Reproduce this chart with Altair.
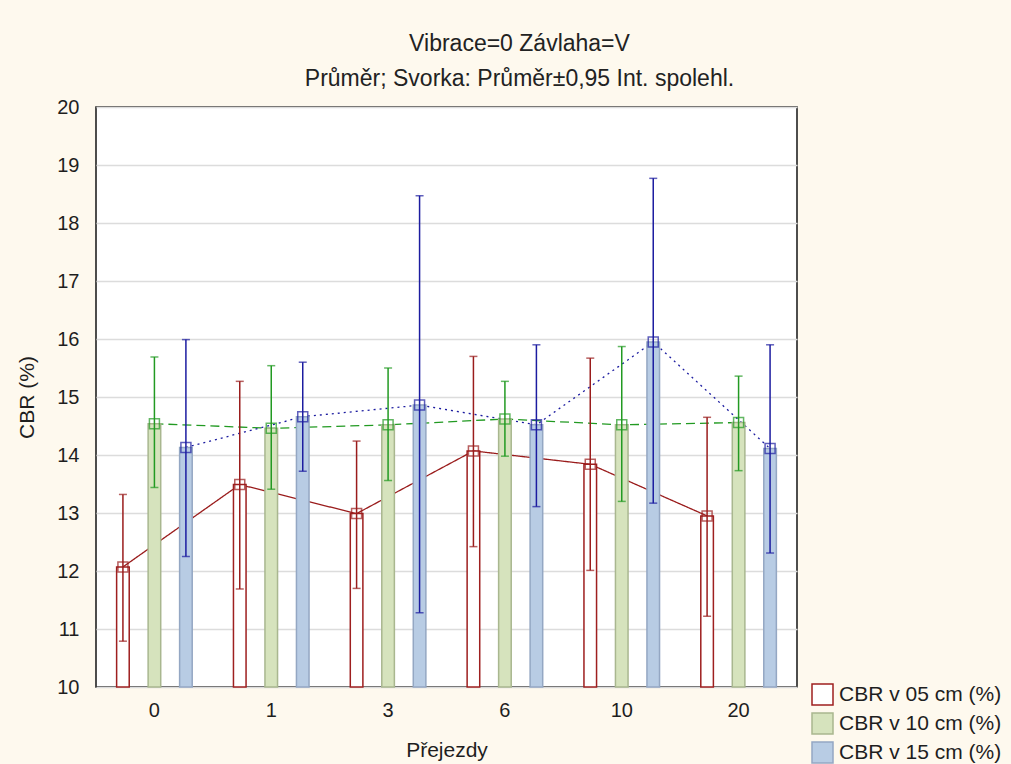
import altair as alt
import pandas as pd

categories = ["0", "1", "3", "6", "10", "20"]
series = ["CBR v 05 cm (%)", "CBR v 10 cm (%)", "CBR v 15 cm (%)"]
depths = ["05", "10", "15"]

mean_05 = [12.07, 13.49, 12.99, 14.07, 13.84, 12.95]
low_05 = [10.79, 11.69, 11.70, 12.42, 12.01, 11.22]
high_05 = [13.32, 15.27, 14.24, 15.70, 15.67, 14.65]

mean_10 = [14.54, 14.46, 14.52, 14.62, 14.52, 14.56]
low_10 = [13.44, 13.41, 13.56, 13.98, 13.20, 13.73]
high_10 = [15.69, 15.54, 15.50, 15.27, 15.87, 15.36]

mean_15 = [14.13, 14.66, 14.86, 14.52, 15.95, 14.11]
low_15 = [12.25, 13.72, 11.28, 13.11, 13.17, 12.31]
high_15 = [15.99, 15.60, 18.47, 15.90, 18.77, 15.90]

bar_fill = ["#FFFFFF", "#D6E3BD", "#B8CCE4"]
bar_stroke = ["#9E1F1F", "#A9B78F", "#94A7C3"]
line_color = ["#9A1C1C", "#229A22", "#1C1CA0"]
dashes = [[1, 0], [9, 5], [2, 4]]

rows = []
for s, d, m, lo, hi in zip(series, depths, [mean_05, mean_10, mean_15],
                           [low_05, low_10, low_15], [high_05, high_10, high_15]):
    for c, mv, l, h in zip(categories, m, lo, hi):
        rows.append({"prejezdy": c, "series": s, "depth": d, "mean": mv, "low": l, "high": h})
df = pd.DataFrame(rows)

FONT = "Liberation Sans"

x = alt.X("prejezdy:N", sort=categories,
          scale=alt.Scale(paddingInner=0, paddingOuter=0),
          axis=alt.Axis(title="Přejezdy", labelAngle=0, ticks=False, domain=False,
                        grid=False, labelPadding=13, titlePadding=19))
xo = alt.XOffset("series:N", sort=series,
                 scale=alt.Scale(domain=series, paddingInner=0.6, paddingOuter=0.655))
y_scale = alt.Scale(domain=[10, 20], nice=False, zero=False)
y = alt.Y("mean:Q", scale=y_scale,
          axis=alt.Axis(title="CBR (%)", values=list(range(10, 21)), format="d", ticks=False,
                        domain=False, labelPadding=17, titlePadding=19))
color = alt.Color("depth:N", scale=alt.Scale(domain=depths, range=line_color), legend=None)

base = alt.Chart(df)

lines = base.mark_line(strokeWidth=1.3).encode(
    x=x, xOffset=xo, y=y, color=color,
    strokeDash=alt.StrokeDash("depth:N", scale=alt.Scale(domain=depths, range=dashes), legend=None),
)

leg = alt.Legend(title=None, orient="none", legendX=715, legendY=576,
                 symbolType="square", symbolSize=441, symbolStrokeWidth=1.5,
                 labelFont=FONT, labelFontSize=21, labelColor="#1e1e1e",
                 labelOffset=5, rowPadding=2, labelLimit=400)

bars = base.mark_bar(strokeWidth=1.5).encode(
    x=x, xOffset=xo, y=y, y2=alt.datum(10),
    fill=alt.Fill("series:N", scale=alt.Scale(domain=series, range=bar_fill), legend=leg),
    stroke=alt.Stroke("series:N", scale=alt.Scale(domain=series, range=bar_stroke), legend=leg),
)

rules = base.mark_rule(strokeWidth=1.5).encode(
    x=x, xOffset=xo, y=alt.Y("low:Q", scale=y_scale), y2="high:Q", color=color)
cap_lo = base.mark_tick(thickness=1.5, size=8).encode(
    x=x, xOffset=xo, y=alt.Y("low:Q", scale=y_scale), color=color)
cap_hi = base.mark_tick(thickness=1.5, size=8).encode(
    x=x, xOffset=xo, y=alt.Y("high:Q", scale=y_scale), color=color)
points = base.mark_point(shape="square", size=100, filled=False, strokeWidth=1.5).encode(
    x=x, xOffset=xo, y=y, color=color)

chart = alt.layer(lines, bars, rules, cap_lo, cap_hi, points).properties(
    width=701, height=580,
    title=alt.TitleParams(
        text="Vibrace=0 Závlaha=V",
        subtitle="Průměr; Svorka: Průměr±0,95 Int. spolehl.",
        font=FONT, subtitleFont=FONT, fontSize=23, subtitleFontSize=23,
        fontWeight="normal", color="#222222", subtitleColor="#222222",
        anchor="middle", dx=73, offset=6, subtitlePadding=12,
    ),
    autosize=alt.AutoSizeParams(type="none"),
    padding={"left": 96, "top": 107, "right": 214, "bottom": 77},
    background="#FEF9EE",
).configure_view(
    fill="white", stroke="#222222", strokeWidth=1.6
).configure_axis(
    labelFont=FONT, titleFont=FONT, labelFontSize=20, titleFontSize=21,
    labelColor="#1e1e1e", titleColor="#1e1e1e", titleFontWeight="normal",
    gridColor="#DCDCDC", gridWidth=1.5,
)

chart.save("out.html", embed_options={"renderer": "svg", "actions": False})
